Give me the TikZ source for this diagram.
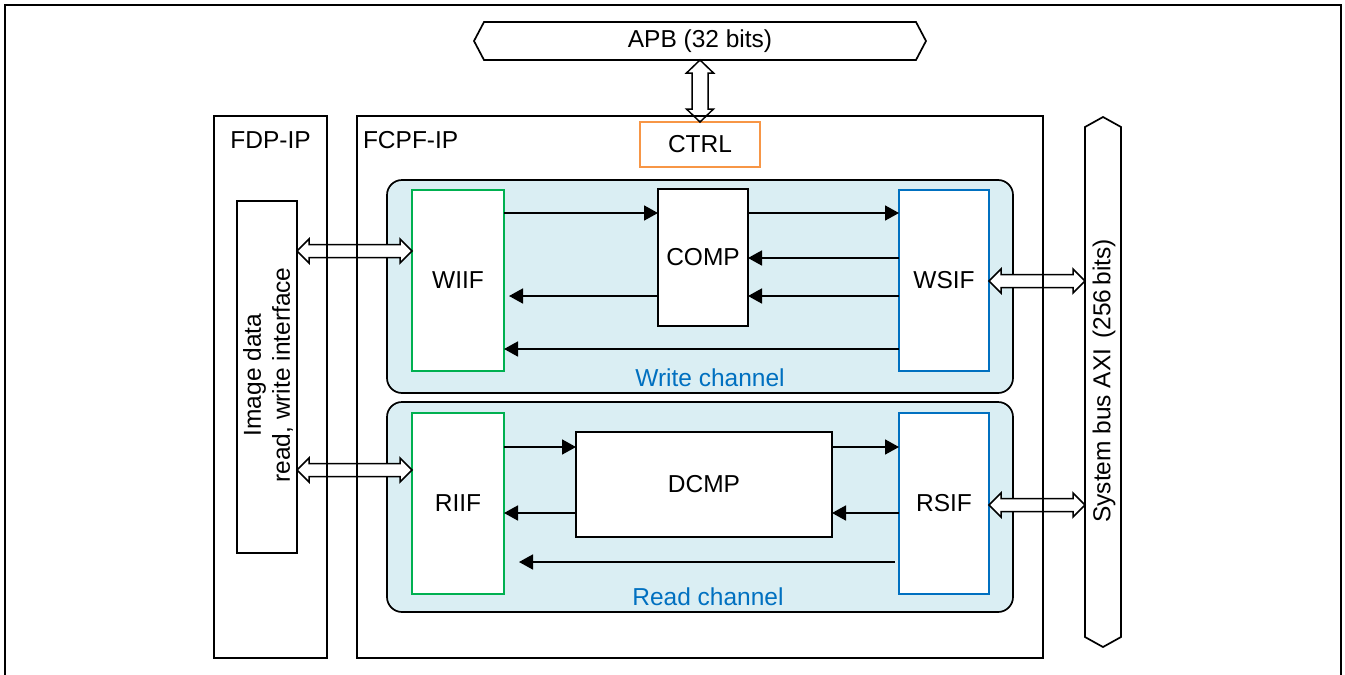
\documentclass[tikz,border=0pt]{standalone}
\usepackage{fontspec}
\setmainfont{Liberation Sans}
\usetikzlibrary{arrows.meta,calc}
\definecolor{chfill}{HTML}{DAEEF3}
\definecolor{gbox}{HTML}{00B050}
\definecolor{bbox}{HTML}{0070C0}
\definecolor{obox}{HTML}{F79646}
\begin{document}
\begin{tikzpicture}[x=1pt,y=-1pt,
  every node/.style={font=\fontsize{24.5}{29}\selectfont, inner sep=0pt, outer sep=0pt},
  box/.style={draw, line width=1.7pt, fill=white},
  chan/.style={draw, line width=1.7pt, fill=chfill, rounded corners=15pt},
  arr/.style={line width=1.7pt, -{Triangle[length=14pt,width=15pt]}},
  hollowh/.style={line width=1.5pt, fill=white, to path={
    let \p1=(\tikztostart), \p2=(\tikztotarget) in
    (\x1,\y2) -- (\x1+12pt,\y2+12pt) -- (\x1+12pt,\y2+6.5pt) -- (\x2-12pt,\y2+6.5pt)
    -- (\x2-12pt,\y2+12pt) -- (\x2,\y2) -- (\x2-12pt,\y2-12pt) -- (\x2-12pt,\y2-6.5pt)
    -- (\x1+12pt,\y2-6.5pt) -- (\x1+12pt,\y2-12pt) -- cycle}},
  hollowv/.style={line width=1.5pt, fill=white, to path={
    let \p1=(\tikztostart), \p2=(\tikztotarget) in
    (\x2,\y1) -- (\x2+13.5pt,\y1-13pt) -- (\x2+8pt,\y1-13pt) -- (\x2+8pt,\y2+13pt)
    -- (\x2+13.5pt,\y2+13pt) -- (\x2,\y2) -- (\x2-13.5pt,\y2+13pt) -- (\x2-8pt,\y2+13pt)
    -- (\x2-8pt,\y1-13pt) -- (\x2-13.5pt,\y1-13pt) -- cycle}}]
\useasboundingbox (0,0) rectangle (1345,675);
% outer frame
\draw[line width=1.8pt] (5,685) -- (5,5) -- (1341,5) -- (1341,685);

% IP blocks
\node[box, fill=none, minimum width=113pt, minimum height=542pt] (fdp) at (270.5,387) {};
\node (fdplbl) at (270.5,140) {FDP-IP};
\node[box, fill=none, minimum width=686pt, minimum height=542pt] (fcpf) at (700,387) {};
\node[anchor=west] (fcpflbl) at (363,140) {FCPF-IP};

% APB bus
\node[minimum width=452pt, minimum height=38pt] (apb) at (700,41) {APB (32 bits)};
\draw[line width=1.7pt] (apb.west) -- ([xshift=10pt]apb.north west) -- ([xshift=-10pt]apb.north east)
  -- (apb.east) -- ([xshift=-10pt]apb.south east) -- ([xshift=10pt]apb.south west) -- cycle;

% AXI bus
\node[minimum width=36pt, minimum height=530pt] (axi) at (1103,382) {};
\draw[line width=1.7pt] (axi.north) -- ([yshift=-10pt]axi.north east) -- ([yshift=10pt]axi.south east)
  -- (axi.south) -- ([yshift=10pt]axi.south west) -- ([yshift=-10pt]axi.north west) -- cycle;
\node[rotate=90] (axitxt) at (1104,381) {System bus AXI\hspace{10pt}(256\hspace{4pt}bits)};

% CTRL
\node[box, draw=obox, minimum width=120pt, minimum height=45pt] (ctrl) at (700,144.5) {CTRL};

% image data interface
\node[box, minimum width=60pt, minimum height=352pt] (img) at (267,377) {};
\node[rotate=90, align=center] (imgtxt) at (268,375) {Image data\\read, write interface};

% channels
\node[chan, minimum width=626pt, minimum height=213pt] (wch) at (700,286.5) {};
\node[chan, minimum width=626pt, minimum height=210pt] (rch) at (700,507) {};
\node[text=bbox] (wlbl) at (710,378) {Write channel};
\node[text=bbox] (rlbl) at (708,597) {Read channel};

\node[box, draw=gbox, minimum width=92pt, minimum height=181pt] (wiif) at (458,280.5) {WIIF};
\node[box, draw=bbox, minimum width=90pt, minimum height=181pt] (wsif) at (944,280.5) {WSIF};
\node[box, minimum width=90pt, minimum height=137pt] (comp) at (703,257.5) {COMP};
\node[box, draw=gbox, minimum width=92pt, minimum height=181pt] (riif) at (458,503.5) {RIIF};
\node[box, draw=bbox, minimum width=90pt, minimum height=181pt] (rsif) at (944,503.5) {RSIF};
\node[box, minimum width=256pt, minimum height=105pt] (dcmp) at (704,484.5) {DCMP};

% write channel arrows
\draw[arr] (wiif.east |- 0,213) -- (comp.west |- 0,213);
\draw[arr] (comp.east |- 0,213) -- (wsif.west |- 0,213);
\draw[arr] (wsif.west |- 0,258) -- (comp.east |- 0,258);
\draw[arr] (wsif.west |- 0,296) -- (comp.east |- 0,296);
\draw[arr] (comp.west |- 0,296) -- ([xshift=5pt]wiif.east |- 0,296);
\draw[arr] (wsif.west |- 0,349) -- (wiif.east |- 0,349);

% read channel arrows
\draw[arr] (riif.east |- 0,447) -- (dcmp.west |- 0,447);
\draw[arr] (dcmp.east |- 0,447) -- (rsif.west |- 0,447);
\draw[arr] (rsif.west |- 0,513) -- (dcmp.east |- 0,513);
\draw[arr] (dcmp.west |- 0,513) -- (riif.east |- 0,513);
\draw[arr] ([xshift=-4pt]rsif.west |- 0,562) -- ([xshift=15pt]riif.east |- 0,562);

% hollow double arrows
\draw[hollowh] (img.east |- 0,251) to (wiif.west |- 0,251);
\draw[hollowh] (img.east |- 0,470) to (riif.west |- 0,470);
\draw[hollowh] (wsif.east |- 0,281) to (axi.west |- 0,281);
\draw[hollowh] (rsif.east |- 0,505) to (axi.west |- 0,505);
\draw[hollowv] (apb.south) to (ctrl.north);

% IP outlines on top
\draw[line width=1.7pt] (fdp.north west) rectangle (fdp.south east);
\draw[line width=1.7pt] (fcpf.north west) rectangle (fcpf.south east);
\end{tikzpicture}
\end{document}
